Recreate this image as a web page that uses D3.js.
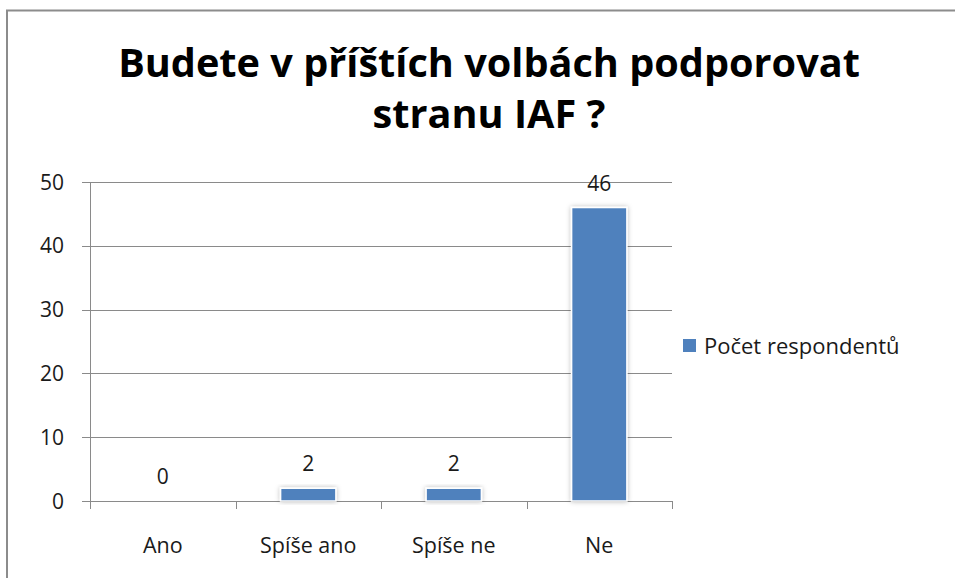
<!DOCTYPE html>
<html>
<head>
<meta charset="utf-8">
<script src="https://cdn.jsdelivr.net/npm/d3@7"></script>
<style>
  html, body { margin: 0; padding: 0; background: #fff; }
  text { font-family: "Open Sans", "Noto Sans", sans-serif; fill: #1a1a1a; }
</style>
</head>
<body>
<div id="chart"></div>
<script>
// Data
const categories = ["Ano", "Spíše ano", "Spíše ne", "Ne"];
const values = [0, 2, 2, 46];
const seriesName = "Počet respondentů";
const yTicks = [0, 10, 20, 30, 40, 50];
const titleLines = ["Budete v příštích volbách podporovat", "stranu IAF ?"];

const width = 955;
const height = 578;
const margin = { left: 90, right: 283, top: 182, bottom: 77 };

const svg = d3.select("#chart")
    .append("svg")
    .attr("width", width)
    .attr("height", height);

// ombre legere autour des barres
const defs = svg.append("defs");
const f = defs.append("filter")
    .attr("id", "glow")
    .attr("x", "-30%").attr("y", "-30%")
    .attr("width", "160%").attr("height", "160%");
f.append("feDropShadow")
    .attr("dx", 0).attr("dy", 0)
    .attr("stdDeviation", 2.5)
    .attr("flood-color", "#000")
    .attr("flood-opacity", 0.28);

// cadre
svg.append("rect")
    .attr("x", 7)
    .attr("y", 10.5)
    .attr("width", width + 20)
    .attr("height", height + 20)
    .attr("fill", "none")
    .attr("stroke", "#8c8c8c")
    .attr("stroke-width", 2);

// titre
const title = svg.selectAll(".title")
    .data(titleLines)
    .enter()
    .append("text")
    .attr("class", "title")
    .attr("x", 489)
    .attr("y", (d, i) => 77 + i * 51)
    .attr("text-anchor", "middle")
    .attr("font-size", "40px")
    .attr("font-weight", "bold")
    .style("fill", "#000")
    .text(d => d);

// ajuster la taille pour la largeur de la premiere ligne (~742px)
const w0 = title.node().getComputedTextLength();
const fs = Math.min(44, 40 * 742 / w0);
title.attr("font-size", fs + "px");

const x = d3.scaleBand()
    .domain(categories)
    .range([margin.left, width - margin.right])
    .paddingInner(0.62)
    .paddingOuter(0.31);

const xOuter = d3.scaleBand()
    .domain(categories)
    .range([margin.left, width - margin.right]);

const y = d3.scaleLinear()
    .domain([0, 50])
    .range([height - margin.bottom, margin.top]);

// grille
svg.append("g")
    .selectAll("line")
    .data(yTicks)
    .enter()
    .append("line")
    .attr("x1", margin.left - 8)
    .attr("x2", width - margin.right)
    .attr("y1", d => Math.round(y(d)) + 0.5)
    .attr("y2", d => Math.round(y(d)) + 0.5)
    .attr("stroke", "#8a8a8a")
    .attr("stroke-width", 1);

// axe y
svg.append("line")
    .attr("x1", margin.left + 0.5)
    .attr("x2", margin.left + 0.5)
    .attr("y1", y(50))
    .attr("y2", y(0))
    .attr("stroke", "#8a8a8a");

svg.append("g")
    .selectAll("text")
    .data(yTicks)
    .enter()
    .append("text")
    .attr("x", 64)
    .attr("y", d => y(d) + 7.5)
    .attr("text-anchor", "end")
    .attr("font-size", "21px")
    .text(d => d);

// ticks axe x
const xTickPos = categories.map(c => xOuter(c)).concat([width - margin.right]);
svg.append("g")
    .selectAll("line")
    .data(xTickPos)
    .enter()
    .append("line")
    .attr("x1", d => Math.round(d) + 0.5)
    .attr("x2", d => Math.round(d) + 0.5)
    .attr("y1", y(0))
    .attr("y2", y(0) + 8)
    .attr("stroke", "#8a8a8a");

svg.append("g")
    .selectAll("text")
    .data(categories)
    .enter()
    .append("text")
    .attr("x", d => xOuter(d) + xOuter.bandwidth() / 2)
    .attr("y", height - 25)
    .attr("text-anchor", "middle")
    .attr("font-size", "21.5px")
    .text(d => d);

// barres
const data = categories.map((c, i) => ({ label: c, value: values[i] }));

svg.append("g")
    .selectAll("rect")
    .data(data.filter(d => d.value > 0))
    .enter()
    .append("rect")
    .attr("x", d => x(d.label))
    .attr("y", d => y(d.value))
    .attr("width", x.bandwidth())
    .attr("height", d => y(0) - y(d.value))
    .attr("fill", "#4f81bd")
    .attr("stroke", "#ffffff")
    .attr("stroke-width", 1.5)
    .attr("filter", "url(#glow)");

// etiquettes
svg.append("g")
    .selectAll("text")
    .data(data)
    .enter()
    .append("text")
    .attr("x", d => x(d.label) + x.bandwidth() / 2)
    .attr("y", d => y(d.value) - 17)
    .attr("text-anchor", "middle")
    .attr("font-size", "21px")
    .text(d => d.value);

// legende
const legend = svg.append("g")
    .attr("transform", "translate(683, 339)");

legend.append("rect")
    .attr("width", 13)
    .attr("height", 13)
    .attr("fill", "#4f81bd");

legend.append("text")
    .attr("x", 21)
    .attr("y", 14.5)
    .attr("font-size", "22px")
    .text(seriesName);
</script>
</body>
</html>
